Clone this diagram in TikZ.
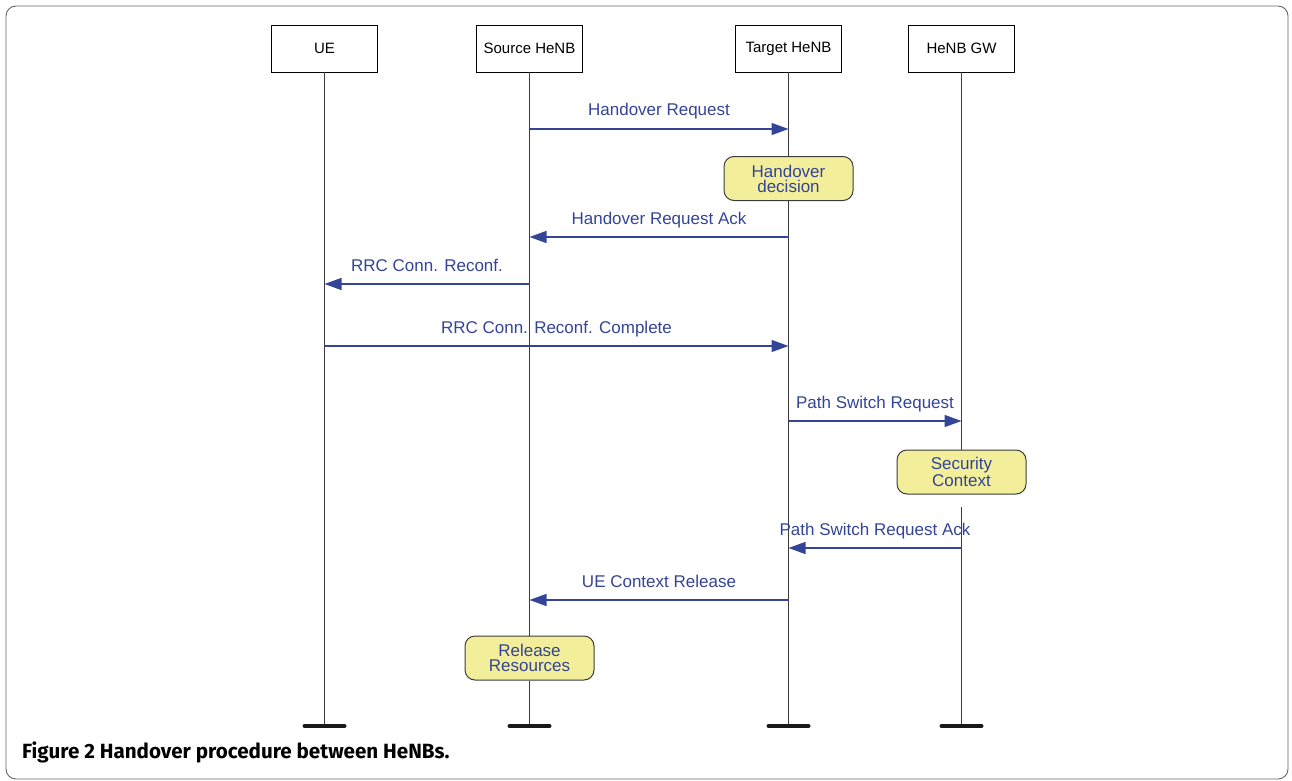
\documentclass[tikz,border=0pt]{standalone}
\usepackage{fontspec}
\usepackage{tikz}
\usetikzlibrary{arrows.meta,positioning,calc}
\newfontfamily\arialfont{Liberation Sans}
\newfontfamily\captionfont{Fira Sans}
\definecolor{msgblue}{RGB}{52,68,150}
\definecolor{actyellow}{RGB}{242,238,154}
\definecolor{lifegray}{RGB}{60,60,60}
\tikzset{
  entity/.style={draw=black, line width=0.9pt, minimum width=106pt, minimum height=47pt,
    font=\arialfont\fontsize{15}{17}\selectfont},
  action/.style={draw=lifegray, line width=1pt, fill=actyellow, rounded corners=10pt,
    minimum width=129pt, minimum height=44pt, align=center, text=msgblue,
    font=\arialfont\fontsize{17}{15}\selectfont},
  lifeline/.style={draw=lifegray, line width=1.2pt},
  endbar/.style={draw=black!90, line width=4pt, line cap=round},
  msg/.style={draw=msgblue, line width=1.4pt, -{Triangle[length=17pt,width=12pt]}},
  msglabel/.style={text=msgblue, anchor=base, yshift=13pt, inner sep=0pt,
    font=\arialfont\fontsize{17}{19}\selectfont}
}
\begin{document}
\begin{tikzpicture}[x=1pt,y=-1pt]
  \useasboundingbox (0,0) rectangle (1292,781);
  \draw[gray!80!black, line width=0.9pt, rounded corners=10pt] (6,6) rectangle (1288,779);
  % participants
  \foreach \name/\x/\txt in {ue/324.5/UE, src/529.5/Source HeNB, tgt/788.5/Target HeNB, gw/961.5/HeNB GW} {
    \node[entity] (\name) at (\x,48.5) {\txt};
    \coordinate (\name-end) at (\x,726);
  }
  % actions
  \node[action] (decision) at (tgt |- 0,178.5) {Handover\\decision};
  \node[action] (security) at (gw |- 0,472) {Security\\Context};
  \node[action] (release) at (src |- 0,658) {Release\\Resources};
  \coordinate (gw-resume) at (gw |- 0,507);
  % lifelines
  \draw[lifeline] (ue.south) -- (ue-end);
  \draw[lifeline] (src.south) -- (release.north) (release.south) -- (src-end);
  \draw[lifeline] (tgt.south) -- (decision.north) (decision.south) -- (tgt-end);
  \draw[lifeline] (gw.south) -- (security.north) (gw-resume) -- (gw-end);
  \foreach \name in {ue,src,tgt,gw}
    \draw[endbar] (\name-end) ++(-20,0) -- ++(40,0);
  % messages
  \foreach \from/\to/\y/\txt in {src/tgt/129/Handover Request,
      tgt/src/237/Handover Request Ack,
      src/ue/284/RRC Conn. Reconf.,
      ue/tgt/346/RRC Conn. Reconf. Complete,
      tgt/gw/421/Path Switch Request,
      gw/tgt/548/Path Switch Request Ack,
      tgt/src/600/UE Context Release} {
    \draw[msg] (\from |- 0,\y) -- (\to |- 0,\y) node[msglabel, midway] {\txt};
  }
  \node[anchor=base west, inner sep=0pt, font=\captionfont\bfseries\fontsize{20.6}{22}\selectfont]
    (caption) at (22,758) {Figure 2 Handover procedure between HeNBs.};
\end{tikzpicture}
\end{document}
